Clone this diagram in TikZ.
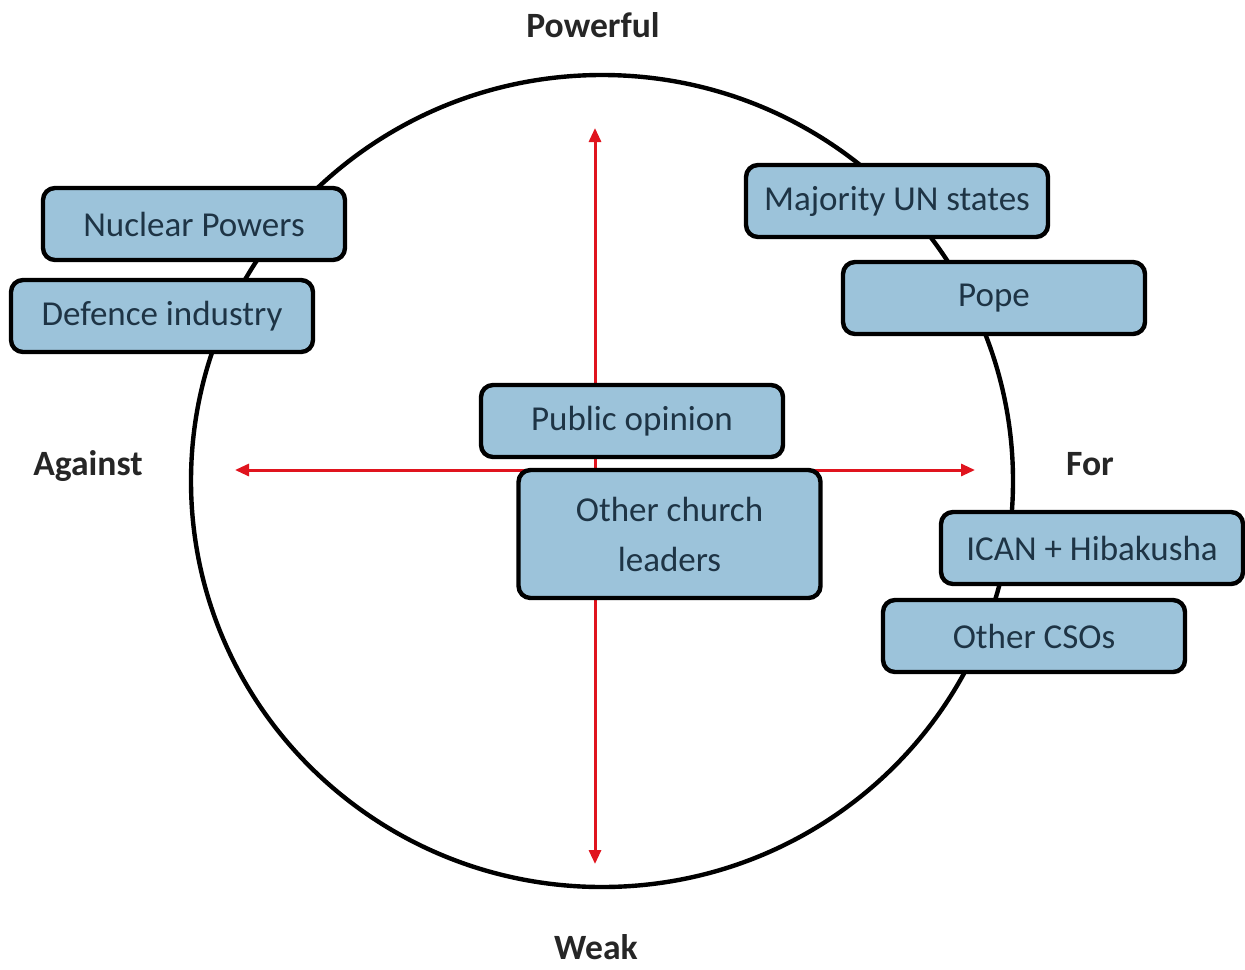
\documentclass[tikz,border=0pt]{standalone}
\usepackage{fontspec}
\setmainfont{Carlito}
\usetikzlibrary{arrows.meta,shapes.geometric}
\definecolor{boxfill}{HTML}{9CC3DA}
\definecolor{boxtext}{HTML}{1E3445}
\definecolor{axisred}{HTML}{E0141E}
\tikzset{
  stakeholder/.style={draw=black, line width=2.2pt, fill=boxfill, rounded corners=6pt,
    minimum width=151pt, minimum height=36pt, inner sep=0pt, text=boxtext,
    font=\fontsize{17.5}{25}\selectfont, align=center},
  axislabel/.style={font=\fontsize{17.8}{20}\selectfont\bfseries, text=black!85, inner sep=0pt, anchor=base},
  axis/.style={draw=axisred, line width=1.5pt, {Triangle[length=7pt,width=6pt]}-{Triangle[length=7pt,width=6pt]}},
}
\begin{document}
\begin{tikzpicture}[x=0.5pt,y=-0.5pt]
\useasboundingbox (0,0) rectangle (1245,969);
\node[draw=black, line width=2.2pt, ellipse, minimum width=411pt, minimum height=406pt, inner sep=0pt] (circle) at (602,481) {};
\coordinate (top) at (595,128);
\coordinate (bottom) at (595,864);
\coordinate (left) at (235,470);
\coordinate (right) at (975,470);
\draw[axis] (top) -- (bottom);
\draw[axis] (left) -- (right);
\node[axislabel] (powerful) at (593,37) {Powerful};
\node[axislabel] (weak) at (596,959) {Weak};
\node[axislabel] (against) at (88,475) {Against};
\node[axislabel] (for) at (1090,475) {For};
\node[stakeholder] (np) at (194,224) {Nuclear Powers};
\node[stakeholder] (di) at (162,316) {Defence industry};
\node[stakeholder] (mun) at (897,201) {Majority UN states};
\node[stakeholder] (pope) at (994,298) {Pope};
\node[stakeholder] (po) at (632,421) {Public opinion};
\node[stakeholder, minimum height=64pt] (ocl) at (669.5,534) {Other church\\leaders};
\node[stakeholder] (ican) at (1092,548) {ICAN + Hibakusha};
\node[stakeholder] (cso) at (1034,636) {Other CSOs};
\end{tikzpicture}
\end{document}
